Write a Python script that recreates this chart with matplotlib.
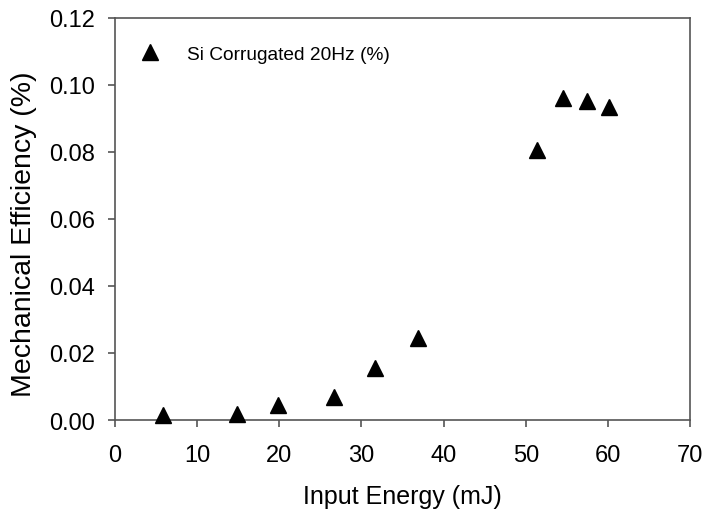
import matplotlib
matplotlib.use("Agg")
import matplotlib.pyplot as plt

energy = [5.8, 14.8, 19.9, 26.7, 31.7, 36.9, 51.3, 54.5, 57.5, 60.1]
efficiency = [0.0015, 0.0018, 0.0045, 0.0070, 0.0155, 0.0245, 0.0805, 0.0960, 0.0950, 0.0932]
xticks = [0, 10, 20, 30, 40, 50, 60, 70]
yticks = [0.00, 0.02, 0.04, 0.06, 0.08, 0.10, 0.12]

plt.rcParams['font.family'] = ['Liberation Sans', 'DejaVu Sans']

fig = plt.figure(figsize=(7.05, 5.1), dpi=100)
ax = fig.add_axes([0.163, 0.1745, 0.816, 0.789])
ax.plot(energy, efficiency, linestyle='none', marker='^', markersize=11.5,
        color='black', label='Si Corrugated 20Hz (%)', clip_on=False, zorder=5)
ax.set_xlim(0, 70)
ax.set_ylim(0, 0.12)
ax.set_xticks(xticks)
ax.set_yticks(yticks)
ax.set_xticklabels([str(v) for v in xticks])
ax.set_yticklabels([f"{v:.2f}" for v in yticks])
for s in ax.spines.values():
    s.set_color('#555555')
    s.set_linewidth(1.2)
ax.tick_params(direction='out', length=5, width=1.2, color='#555555',
               labelsize=17)
ax.tick_params(axis='x', pad=12)
ax.tick_params(axis='y', pad=9)
ax.set_xlabel('Input Energy (mJ)', fontsize=18, labelpad=13)
ax.set_ylabel('Mechanical Efficiency (%)', fontsize=20.5, labelpad=9)
ax.yaxis.label.set_y(0.463)
leg = ax.legend(loc='upper left', frameon=False, fontsize=13.8,
                bbox_to_anchor=(0.028, 0.93), borderaxespad=0, borderpad=0,
                handletextpad=0.9, handlelength=2.0)
fig.savefig('out.png', dpi=100)
